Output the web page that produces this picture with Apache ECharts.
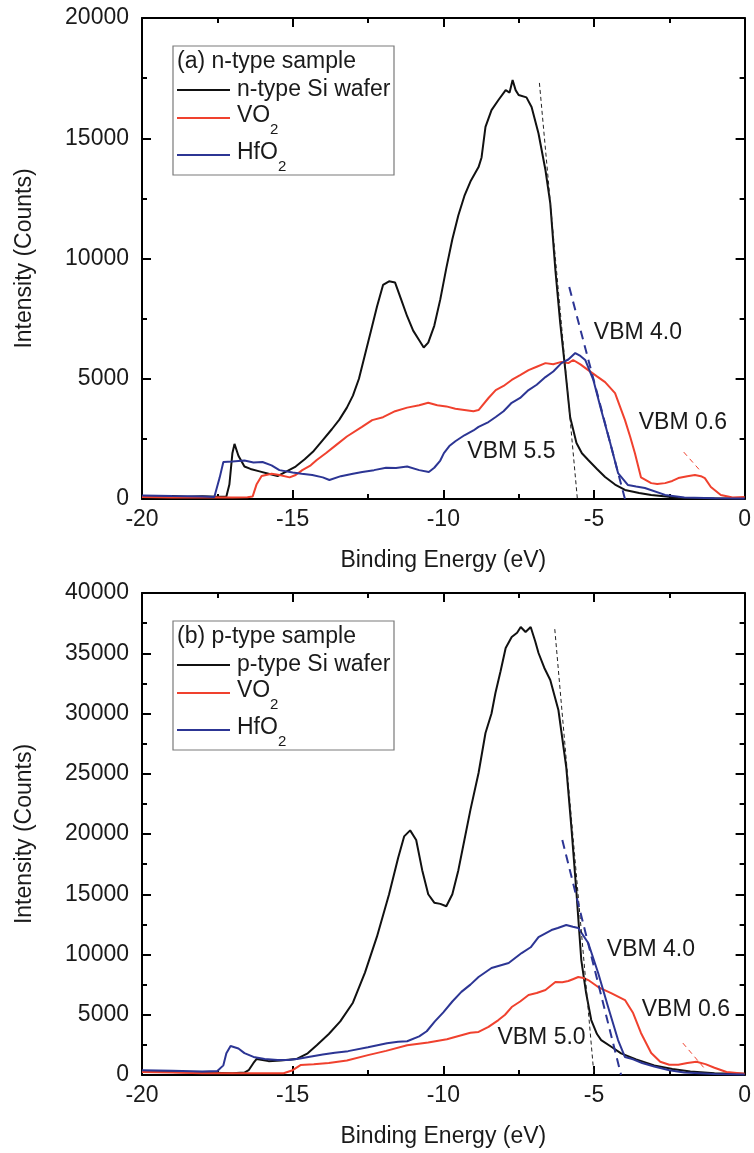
<!DOCTYPE html>
<html>
<head>
<meta charset="utf-8">
<script src="https://cdn.jsdelivr.net/npm/echarts@6/dist/echarts.min.js"></script>
<style>
  html, body { margin: 0; padding: 0; background: #ffffff; }
  #chart { width: 754px; height: 1153px; }
</style>
</head>
<body>
<div id="chart"></div>
<script>
// ---------- (a) n-type sample ----------
const nSiE = [-20, -19.5, -19, -18.5, -18, -17.5, -17.2, -17.1, -17.0, -16.93, -16.8, -16.6, -16.4, -16.1, -15.8, -15.5, -15.2, -14.9, -14.6, -14.3, -14.0, -13.7, -13.45, -13.2, -13.0, -12.8, -12.6, -12.4, -12.2, -12.0, -11.8, -11.6, -11.4, -11.2, -11.0, -10.8, -10.65, -10.5, -10.3, -10.1, -9.9, -9.7, -9.5, -9.3, -9.1, -8.83, -8.73, -8.6, -8.4, -8.17, -7.93, -7.8, -7.70, -7.6, -7.5, -7.24, -7.07, -6.84, -6.61, -6.45, -6.28, -6.12, -5.95, -5.79, -5.58, -5.4, -5.19, -4.9, -4.63, -4.3, -3.97, -3.5, -3.1, -2.6, -2.2, -1.5, -0.8, 0];
const nSiI = [120, 80, 130, 90, 110, 90, 100, 600, 1900, 2290, 1800, 1350, 1250, 1150, 1050, 950, 1150, 1350, 1650, 2000, 2450, 2900, 3300, 3800, 4300, 5000, 6000, 7000, 8000, 8900, 9050, 9000, 8300, 7600, 7000, 6600, 6300, 6500, 7200, 8300, 9600, 10800, 11800, 12600, 13200, 13800, 14200, 15470, 16170, 16590, 17000, 16900, 17420, 17000, 16800, 16700, 16300, 15200, 13680, 12300, 9520, 7320, 5360, 3400, 2330, 1900, 1620, 1250, 915, 600, 375, 250, 170, 100, 40, 30, 20, 20];

const nVoE = [-20, -19, -18, -17, -16.5, -16.33, -16.2, -16.03, -15.7, -15.44, -15.1, -14.9, -14.68, -14.4, -14.2, -13.9, -13.55, -13.2, -12.7, -12.36, -12.0, -11.6, -11.2, -10.8, -10.5, -10.2, -9.9, -9.6, -9.3, -9.0, -8.83, -8.5, -8.26, -8.0, -7.73, -7.45, -7.17, -6.9, -6.61, -6.35, -6.08, -5.85, -5.69, -5.45, -5.19, -4.9, -4.63, -4.3, -3.97, -3.8, -3.64, -3.44, -3.1, -2.9, -2.64, -2.4, -2.2, -1.9, -1.65, -1.45, -1.32, -1.12, -0.79, -0.4, 0];
const nVoI = [80, 60, 70, 60, 70, 100, 600, 960, 1050, 1000, 900, 1000, 1200, 1400, 1620, 1900, 2250, 2600, 3000, 3280, 3400, 3650, 3800, 3900, 4000, 3900, 3850, 3750, 3700, 3650, 3700, 4200, 4530, 4700, 4950, 5150, 5360, 5500, 5650, 5600, 5700, 5650, 5780, 5600, 5360, 5100, 4860, 4400, 3280, 2600, 1900, 900, 660, 620, 660, 750, 870, 950, 1000, 950, 870, 500, 170, 60, 80];

const nHfE = [-20, -19, -18, -17.6, -17.42, -17.3, -17.0, -16.6, -16.3, -16.0, -15.7, -15.44, -15.0, -14.7, -14.35, -14.0, -13.78, -13.4, -13.0, -12.69, -12.3, -11.9, -11.57, -11.2, -10.8, -10.48, -10.3, -10.1, -9.98, -9.8, -9.6, -9.3, -9.0, -8.83, -8.5, -8.26, -8.0, -7.73, -7.45, -7.17, -6.9, -6.61, -6.35, -6.08, -5.85, -5.62, -5.45, -5.29, -5.02, -4.76, -4.46, -4.2, -3.87, -3.6, -3.31, -2.64, -2.0, -1.0, 0];
const nHfI = [150, 120, 100, 80, 900, 1540, 1560, 1600, 1520, 1540, 1400, 1200, 1100, 1050, 1000, 900, 790, 950, 1050, 1120, 1200, 1300, 1290, 1350, 1200, 1120, 1300, 1600, 1910, 2200, 2400, 2650, 2850, 3000, 3200, 3410, 3650, 4000, 4200, 4530, 4750, 5070, 5300, 5650, 5800, 6070, 5950, 5780, 4950, 3700, 2330, 1080, 580, 520, 460, 170, 60, 30, 20];

// linear onset extrapolations for panel (a)
const nSiFitE = [-6.81, -5.55];
const nSiFitI = [17300, 0];
const nHfFitE = [-5.82, -3.97];
const nHfFitI = [8810, 0];
const nVoFitE = [-2.02, -1.49];
const nVoFitI = [1950, 1200];

// ---------- (b) p-type sample ----------
const pSiE = [-20, -19, -18, -17, -16.6, -16.46, -16.3, -16.2, -16.0, -15.8, -15.4, -14.88, -14.5, -14.2, -13.8, -13.42, -13.0, -12.6, -12.2, -11.8, -11.5, -11.3, -11.1, -10.9, -10.7, -10.5, -10.3, -10.1, -9.9, -9.7, -9.5, -9.3, -9.1, -8.83, -8.6, -8.4, -8.27, -8.1, -7.93, -7.73, -7.55, -7.43, -7.27, -7.1, -6.95, -6.84, -6.65, -6.45, -6.18, -5.92, -5.75, -5.58, -5.42, -5.26, -5.09, -4.9, -4.76, -4.4, -4.1, -3.6, -3.0, -2.4, -1.8, -1.0, 0];
const pSiI = [300, 250, 200, 150, 200, 400, 1000, 1320, 1250, 1150, 1200, 1320, 1800, 2470, 3400, 4450, 6000, 8500, 11500, 15000, 18000, 19800, 20300, 19500, 17000, 15000, 14300, 14200, 14000, 15000, 17000, 19500, 22000, 25060, 28380, 30000, 31700, 33500, 35440, 36350, 36700, 37180, 36760, 37180, 36000, 35020, 33800, 32780, 30290, 25560, 20580, 15100, 9540, 6800, 4560, 3400, 2900, 2300, 1800, 1300, 800, 500, 300, 150, 100];

const pVoE = [-20, -19, -18, -17, -16, -15.3, -15.0, -14.74, -14.3, -13.8, -13.2, -12.5, -11.9, -11.2, -10.5, -9.88, -9.4, -9.1, -8.83, -8.5, -8.17, -7.95, -7.73, -7.45, -7.17, -6.9, -6.61, -6.28, -6.05, -5.85, -5.7, -5.52, -5.35, -5.19, -4.86, -4.43, -3.97, -3.7, -3.44, -3.1, -2.8, -2.5, -2.2, -1.9, -1.6, -1.3, -1.0, -0.6, 0];
const pVoI = [250, 200, 150, 150, 150, 150, 400, 825, 900, 990, 1200, 1650, 2000, 2475, 2700, 2970, 3300, 3500, 3570, 4000, 4560, 5000, 5640, 6100, 6640, 6800, 7050, 7720, 7700, 7800, 7950, 8130, 8050, 7880, 7300, 6800, 6220, 5140, 3490, 1830, 1100, 850, 850, 1000, 1100, 900, 600, 250, 100];

const pHfE = [-20, -19, -18, -17.5, -17.3, -17.2, -17.06, -16.8, -16.6, -16.3, -15.93, -15.5, -15.14, -14.8, -14.48, -14.0, -13.6, -13.16, -12.5, -11.87, -11.5, -11.2, -10.8, -10.55, -10.28, -10.0, -9.7, -9.4, -9.1, -8.83, -8.4, -7.83, -7.4, -7.1, -6.84, -6.41, -6.2, -5.92, -5.7, -5.52, -5.19, -4.86, -4.53, -4.2, -3.97, -3.7, -3.4, -3.0, -2.5, -2.0, -1.0, 0];
const pHfI = [400, 350, 300, 330, 800, 1800, 2410, 2200, 1815, 1500, 1320, 1250, 1250, 1350, 1490, 1700, 1850, 1980, 2300, 2640, 2750, 2800, 3200, 3630, 4450, 5200, 6100, 6900, 7500, 8130, 8880, 9290, 10120, 10600, 11450, 12030, 12200, 12450, 12300, 12200, 10950, 8460, 5640, 2900, 1490, 1300, 1000, 700, 400, 200, 80, 50];

// linear onset extrapolations for panel (b)
const pSiFitE = [-6.3, -5.0];
const pSiFitI = [37000, 0];
const pHfFitE = [-6.05, -4.1];
const pHfFitI = [19500, 0];
const pVoFitE = [-2.05, -1.35];
const pVoFitI = [2650, 600];

// annotation anchors [energy, counts] and their texts
const vbmTextA = ['VBM 5.5', 'VBM 4.0', 'VBM 0.6'];
const vbmPosA = [[-7.74, 1950], [-3.54, 6900], [-2.05, 3160]];
const vbmTextB = ['VBM 5.0', 'VBM 4.0', 'VBM 0.6'];
const vbmPosB = [[-6.74, 3070], [-3.11, 10370], [-1.95, 5390]];

// axis ranges and ticks
const xMin = -20, xMax = 0, xStep = 5;
const yMaxA = 20000, yMaxB = 40000, yStep = 5000;

const seriesNamesA = ['n-type Si wafer', 'VO', 'HfO'];
const seriesNamesB = ['p-type Si wafer', 'VO', 'HfO'];
const panelTitles = ['(a) n-type sample', '(b) p-type sample'];

const BLACK = '#111111', RED = '#f0412e', BLUE = '#2c3594';
const FONT = '"Liberation Sans", Arial, sans-serif';
const TXT = '#1a1a1a';

const pairs = (xs, ys) => xs.map((x, i) => [x, ys[i]]);

const chart = echarts.init(document.getElementById('chart'), null, { renderer: 'canvas' });

const grids = [
  { left: 142, top: 18, width: 605, height: 481 },
  { left: 142, top: 593, width: 605, height: 482 }
];

function xAxes(gridIndex, bottom) {
  return {
    gridIndex, type: 'value', min: xMin, max: xMax, interval: xStep,
    position: bottom ? 'bottom' : 'top',
    name: bottom ? 'Binding Energy (eV)' : '',
    nameLocation: 'middle', nameGap: 50,
    nameTextStyle: { fontFamily: FONT, fontSize: 23, color: TXT },
    axisLine: { show: true, onZero: false, lineStyle: { color: '#000', width: 2 } },
    axisTick: { show: true, inside: true, length: 9, lineStyle: { color: '#000', width: 2 } },
    minorTick: { show: true, splitNumber: 2, length: 5, lineStyle: { color: '#000', width: 2 } },
    axisLabel: { show: bottom, margin: 9, fontFamily: FONT, fontSize: 23, color: TXT,
      formatter: v => String(v) },
    splitLine: { show: false }
  };
}
function yAxes(gridIndex, yMax, left) {
  return {
    gridIndex, type: 'value', min: 0, max: yMax, interval: yStep,
    position: left ? 'left' : 'right',
    name: left ? 'Intensity (Counts)' : '',
    nameLocation: 'middle', nameGap: 106, nameRotate: 90,
    nameTextStyle: { fontFamily: FONT, fontSize: 23, color: TXT },
    axisLine: { show: true, onZero: false, lineStyle: { color: '#000', width: 2 } },
    axisTick: { show: true, inside: true, length: 9, lineStyle: { color: '#000', width: 2 } },
    minorTick: { show: true, splitNumber: 2, length: 5, lineStyle: { color: '#000', width: 2 } },
    axisLabel: { show: left, margin: 13, fontFamily: FONT, fontSize: 23, color: TXT,
      formatter: v => String(v) },
    splitLine: { show: false }
  };
}

function curve(name, xs, ys, color, gi) {
  return {
    name, type: 'line', xAxisIndex: gi * 2, yAxisIndex: gi * 2,
    data: pairs(xs, ys), showSymbol: false, symbol: 'none', smooth: false,
    lineStyle: { color, width: 2 }, silent: true, z: 3
  };
}
function fit(xs, ys, color, width, dash, gi) {
  return {
    type: 'line', xAxisIndex: gi * 2, yAxisIndex: gi * 2,
    data: pairs(xs, ys), showSymbol: false, symbol: 'none',
    lineStyle: { color, width, type: dash }, silent: true, z: 4
  };
}
function notes(texts, pos, gi) {
  return {
    type: 'scatter', xAxisIndex: gi * 2, yAxisIndex: gi * 2,
    symbolSize: 1, silent: true, z: 5,
    itemStyle: { opacity: 0 },
    data: pos.map((p, i) => ({ value: p, name: texts[i] })),
    label: {
      show: true, position: 'inside', formatter: '{b}', opacity: 1,
      fontFamily: FONT, fontSize: 23, color: TXT
    },
    emphasis: { disabled: true }
  };
}

// legend box drawn inside each panel
function legendBox(top, title, names) {
  const x0 = 173, colors = [BLACK, RED, BLUE];
  const rowY = [top + 44, top + 72, top + 109];
  const els = [
    { type: 'rect', shape: { x: x0, y: top, width: 221, height: 129 },
      style: { fill: '#fff', stroke: '#7a7a7a', lineWidth: 1.2 }, z: 10 },
    { type: 'text', x: x0 + 4, y: top + 16,
      style: { text: title, font: '23px ' + FONT, fill: TXT, verticalAlign: 'middle' }, z: 11 }
  ];
  names.forEach((nm, i) => {
    els.push({ type: 'line', shape: { x1: x0 + 4, y1: rowY[i], x2: x0 + 57, y2: rowY[i] },
      style: { stroke: colors[i], lineWidth: 2.2 }, z: 11 });
    els.push({ type: 'text', x: x0 + 64, y: rowY[i] - (i === 0 ? 0 : 2),
      style: { text: nm, font: '23px ' + FONT, fill: TXT, verticalAlign: 'middle' }, z: 11 });
    if (i > 0) {
      const mainW = (i === 1) ? 33 : 41;
      els.push({ type: 'text', x: x0 + 64 + mainW, y: rowY[i] + 12,
        style: { text: '2', font: '15px ' + FONT, fill: TXT, verticalAlign: 'middle' }, z: 11 });
    }
  });
  return els;
}

const option = {
  backgroundColor: '#ffffff',
  animation: false,
  grid: grids,
  xAxis: [xAxes(0, true), xAxes(0, false), xAxes(1, true), xAxes(1, false)],
  yAxis: [yAxes(0, yMaxA, true), yAxes(0, yMaxA, false), yAxes(1, yMaxB, true), yAxes(1, yMaxB, false)],
  series: [
    curve(seriesNamesA[0], nSiE, nSiI, BLACK, 0),
    curve(seriesNamesA[1] + '2', nVoE, nVoI, RED, 0),
    curve(seriesNamesA[2] + '2', nHfE, nHfI, BLUE, 0),
    fit(nSiFitE, nSiFitI, '#222', 1, [4, 3], 0),
    fit(nHfFitE, nHfFitI, BLUE, 2, [9, 6], 0),
    fit(nVoFitE, nVoFitI, RED, 1, [5, 4], 0),
    notes(vbmTextA, vbmPosA, 0),

    curve(seriesNamesB[0], pSiE, pSiI, BLACK, 1),
    curve(seriesNamesB[1] + '2', pVoE, pVoI, RED, 1),
    curve(seriesNamesB[2] + '2', pHfE, pHfI, BLUE, 1),
    fit(pSiFitE, pSiFitI, '#222', 1, [4, 3], 1),
    fit(pHfFitE, pHfFitI, BLUE, 2, [9, 6], 1),
    fit(pVoFitE, pVoFitI, RED, 1, [5, 4], 1),
    notes(vbmTextB, vbmPosB, 1)
  ],
  graphic: [].concat(
    legendBox(46, panelTitles[0], seriesNamesA),
    legendBox(621, panelTitles[1], seriesNamesB)
  )
};

chart.setOption(option);
</script>
</body>
</html>
